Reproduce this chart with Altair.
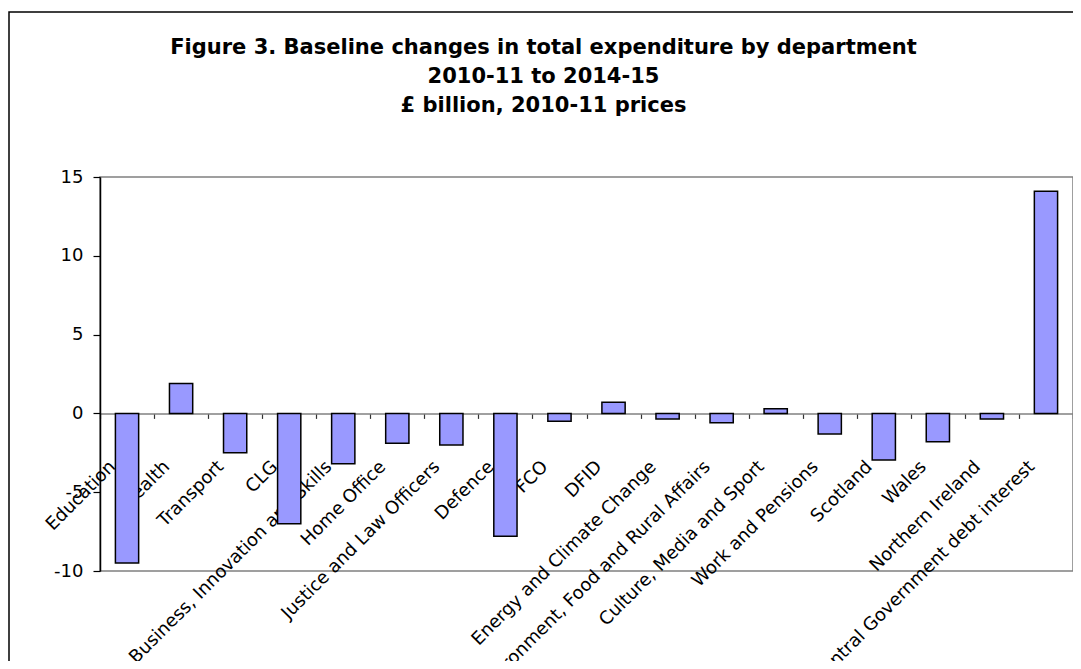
import altair as alt
import pandas as pd

departments = [
    "Education",
    "Health",
    "Transport",
    "CLG",
    "Business, Innovation and Skills",
    "Home Office",
    "Justice and Law Officers",
    "Defence",
    "FCO",
    "DFID",
    "Energy and Climate Change",
    "Environment, Food and Rural Affairs",
    "Culture, Media and Sport",
    "Work and Pensions",
    "Scotland",
    "Wales",
    "Northern Ireland",
    "Central Government debt interest",
]
changes = [-9.5, 1.9, -2.5, -7.0, -3.2, -1.9, -2.0, -7.8, -0.5, 0.7,
           -0.35, -0.6, 0.3, -1.3, -2.95, -1.8, -0.35, 14.1]
y_ticks = [-10, -5, 0, 5, 10, 15]
title_lines = [
    "Figure 3. Baseline changes in total expenditure by department",
    "2010-11 to 2014-15",
    "£ billion, 2010-11 prices",
]

df = pd.DataFrame({"department": departments, "change": changes})

PLOT_W = 973
PLOT_H = 394
Y_MIN, Y_MAX = -10, 15
zero_from_bottom = PLOT_H * (0 - Y_MIN) / (Y_MAX - Y_MIN)

FONT = "DejaVu Sans"

bars = alt.Chart(df).mark_bar(
    width=alt.RelativeBandSize(0.43),
    fill="#9999FF",
    stroke="black",
    strokeWidth=1.5,
).encode(
    x=alt.X(
        "department:N",
        sort=departments,
        scale=alt.Scale(paddingInner=0, paddingOuter=0),
        axis=alt.Axis(
            title=None,
            offset=-zero_from_bottom,
            labelAngle=-45,
            labelAlign="right",
            labelBaseline="top",
            labelOffset=-21,
            labelPadding=39,
            labelFont=FONT,
            labelFontSize=18,
            labelColor="black",
            labelLimit=0,
            labelOverlap=False,
            tickBand="extent",
            tickSize=5,
            tickColor="#333333",
            tickWidth=1.2,
            domainColor="#808080",
            domainWidth=1.5,
            grid=False,
        ),
    ),
    y=alt.Y(
        "change:Q",
        scale=alt.Scale(domain=[Y_MIN, Y_MAX], nice=False),
        axis=alt.Axis(
            title=None,
            values=y_ticks,
            labelExpr="'' + datum.value",
            labelFont=FONT,
            labelFontSize=18,
            labelColor="black",
            labelPadding=10,
            tickSize=7,
            tickColor="black",
            tickWidth=1.2,
            domainColor="black",
            domainWidth=1.5,
            grid=False,
        ),
    ),
)

frame = alt.Chart(pd.DataFrame({"k": [0]})).mark_rect(
    fill="white", fillOpacity=0, stroke="black", strokeWidth=1.5
).encode(
    x=alt.value(-91),
    x2=alt.value(1200),
    y=alt.value(-165),
    y2=alt.value(800),
)

chart = alt.layer(frame, bars).properties(
    width=PLOT_W,
    height=PLOT_H,
    title=alt.Title(
        text=title_lines,
        anchor="middle",
        frame="group",
        dx=-43,
        offset=-126,
        baseline="bottom",
        font=FONT,
        fontSize=21,
        fontWeight="bold",
        color="black",
        lineHeight=29,
    ),
    background="white",
    autosize=alt.AutoSizeParams(type="none"),
    padding={"left": 92, "top": 169, "right": 0, "bottom": 90},
).configure_view(
    stroke="#808080",
    strokeWidth=1.5,
)

chart.save("out.html", embed_options={"renderer": "svg", "actions": False})
